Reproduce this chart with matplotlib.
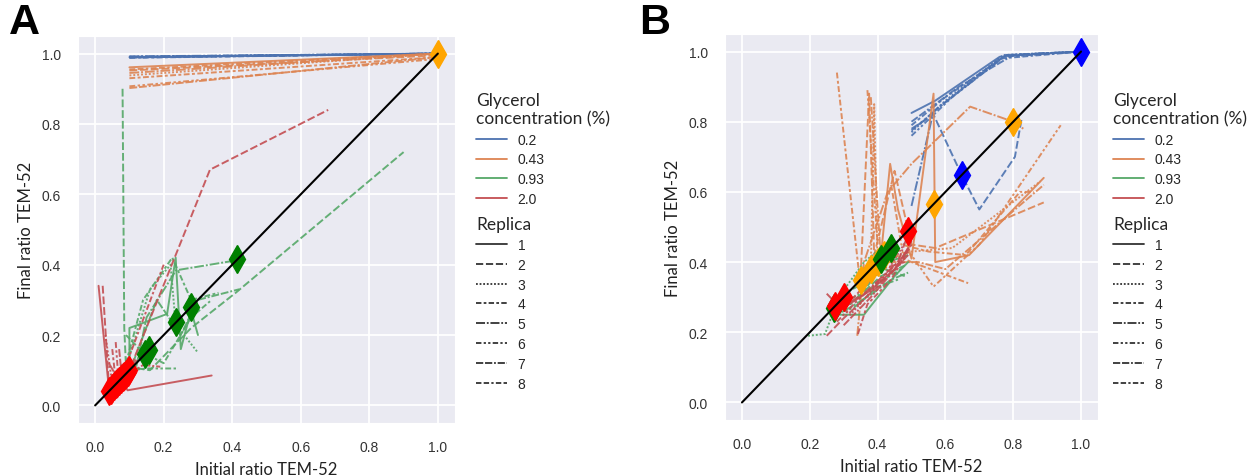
import matplotlib
matplotlib.use("Agg")
import matplotlib.pyplot as plt
from matplotlib.lines import Line2D
import seaborn as sns

sns.set_style("darkgrid")
plt.rcParams['font.family'] = ['Liberation Sans', 'DejaVu Sans']

# ---------------- data ----------------
GLYCEROL = ["0.2", "0.43", "0.93", "2.0"]
REPLICAS = ["1", "2", "3", "4", "5", "6", "7", "8"]
TICKS = [0.0, 0.2, 0.4, 0.6, 0.8, 1.0]

# Panel A trajectories: replica -> (initial ratio, final ratio)
A_G02 = {
    1: ([0.10, 1.0], [0.990, 1.0]), 2: ([0.10, 1.0], [0.989, 1.0]),
    3: ([0.10, 1.0], [0.991, 1.0]), 4: ([0.10, 1.0], [0.988, 1.0]),
    5: ([0.10, 1.0], [0.992, 1.0]), 6: ([0.10, 1.0], [0.990, 1.0]),
    7: ([0.10, 1.0], [0.989, 1.0]), 8: ([0.10, 1.0], [0.991, 1.0]),
}
A_G043 = {
    1: ([0.10, 1.0], [0.961, 1.0]), 2: ([0.10, 1.0], [0.952, 0.995]),
    3: ([0.10, 1.0], [0.938, 1.0]), 4: ([0.10, 1.0], [0.930, 0.99]),
    5: ([0.10, 1.0], [0.945, 1.0]), 6: ([0.10, 1.0], [0.907, 0.985]),
    7: ([0.10, 1.0], [0.902, 0.99]), 8: ([0.10, 1.0], [0.955, 1.0]),
}
A_G093 = {
    1: ([0.10, 0.10, 0.21, 0.235, 0.25, 0.28, 0.30], [0.10, 0.22, 0.26, 0.42, 0.16, 0.27, 0.20]),
    2: ([0.08, 0.085, 0.09, 0.16, 0.28, 0.41, 0.90], [0.90, 0.22, 0.11, 0.10, 0.22, 0.32, 0.72]),
    3: ([0.10, 0.16, 0.22, 0.235, 0.30], [0.14, 0.33, 0.40, 0.23, 0.15]),
    4: ([0.09, 0.14, 0.225, 0.28, 0.36], [0.12, 0.30, 0.42, 0.30, 0.32]),
    5: ([0.12, 0.15, 0.236, 0.416], [0.11, 0.25, 0.384, 0.413]),
    6: ([0.10, 0.15, 0.24], [0.10, 0.105, 0.105]),
    7: ([0.11, 0.18, 0.25, 0.30, 0.42], [0.12, 0.30, 0.20, 0.30, 0.33]),
    8: ([0.09, 0.14, 0.20, 0.28, 0.34], [0.20, 0.15, 0.12, 0.25, 0.30]),
}
A_G20 = {
    1: ([0.010, 0.040, 0.060, 0.095, 0.340], [0.340, 0.050, 0.080, 0.043, 0.085]),
    2: ([0.022, 0.040, 0.100, 0.335, 0.680], [0.340, 0.060, 0.100, 0.670, 0.840]),
    3: ([0.030, 0.050, 0.080], [0.200, 0.060, 0.120]),
    4: ([0.050, 0.060, 0.090], [0.160, 0.070, 0.090]),
    5: ([0.040, 0.070, 0.140, 0.190], [0.120, 0.070, 0.115, 0.110]),
    6: ([0.060, 0.070, 0.110], [0.180, 0.050, 0.120]),
    7: ([0.070, 0.080, 0.120], [0.160, 0.060, 0.130]),
    8: ([0.050, 0.100, 0.200], [0.050, 0.140, 0.400]),
}
A_DIAMOND_ORANGE = [1.0]
A_DIAMOND_GREEN = [0.145, 0.158, 0.236, 0.28, 0.415]
A_DIAMOND_RED = [0.04, 0.045, 0.05, 0.055, 0.06, 0.065, 0.07, 0.075, 0.08, 0.085, 0.09, 0.095, 0.10]

# Panel B trajectories
B_G02 = {
    1: ([0.50, 0.57, 0.76, 0.82, 1.0], [0.825, 0.86, 0.985, 0.99, 1.0]),
    2: ([0.50, 0.565, 0.648, 0.70, 0.805, 0.825], [0.78, 0.82, 0.648, 0.55, 0.70, 0.81]),
    3: ([0.50, 0.60, 0.77, 1.0], [0.77, 0.86, 0.99, 1.0]),
    4: ([0.50, 0.60, 0.78, 1.0], [0.79, 0.87, 0.99, 1.0]),
    5: ([0.50, 0.565, 0.70, 0.78, 1.0], [0.56, 0.83, 0.93, 0.99, 1.0]),
    6: ([0.50, 0.62, 0.77, 1.0], [0.76, 0.87, 0.985, 1.0]),
    7: ([0.50, 0.64, 0.80, 1.0], [0.80, 0.90, 0.99, 1.0]),
    8: ([0.50, 0.58, 0.76, 1.0], [0.775, 0.84, 0.98, 1.0]),
}
B_G043 = {
    1: ([0.35, 0.41, 0.437, 0.46, 0.50, 0.565, 0.57, 0.67, 0.89], [0.35, 0.42, 0.68, 0.55, 0.41, 0.88, 0.40, 0.42, 0.64]),
    2: ([0.35, 0.375, 0.39, 0.45, 0.50, 0.57, 0.89], [0.36, 0.88, 0.42, 0.66, 0.45, 0.44, 0.57]),
    3: ([0.38, 0.39, 0.40, 0.50, 0.62, 0.88], [0.38, 0.85, 0.40, 0.43, 0.44, 0.63]),
    4: ([0.28, 0.345, 0.43, 0.50, 0.667], [0.94, 0.37, 0.43, 0.40, 0.34]),
    5: ([0.34, 0.36, 0.43, 0.50, 0.673, 0.80, 0.83], [0.19, 0.40, 0.60, 0.68, 0.843, 0.80, 0.78]),
    6: ([0.37, 0.40, 0.50, 0.565, 0.70, 0.94], [0.89, 0.45, 0.42, 0.33, 0.45, 0.79]),
    7: ([0.38, 0.41, 0.52, 0.60, 0.89], [0.87, 0.40, 0.40, 0.38, 0.62]),
    8: ([0.44, 0.47, 0.55, 0.66, 0.82, 0.86], [0.62, 0.45, 0.43, 0.42, 0.60, 0.60]),
}
B_G093 = {
    1: ([0.27, 0.29, 0.36, 0.38, 0.45, 0.49], [0.27, 0.25, 0.25, 0.275, 0.36, 0.40]),
    2: ([0.28, 0.33, 0.41, 0.48], [0.27, 0.29, 0.36, 0.39]),
    3: ([0.195, 0.245, 0.27, 0.30, 0.36, 0.41, 0.45], [0.19, 0.195, 0.26, 0.32, 0.40, 0.44, 0.45]),
    4: ([0.27, 0.32, 0.40, 0.47], [0.29, 0.28, 0.34, 0.38]),
    5: ([0.30, 0.37, 0.44, 0.49], [0.26, 0.30, 0.35, 0.37]),
    6: ([0.28, 0.34, 0.42, 0.48], [0.30, 0.33, 0.38, 0.36]),
    7: ([0.29, 0.35, 0.43, 0.49], [0.28, 0.31, 0.40, 0.42]),
    8: ([0.27, 0.33, 0.40, 0.46], [0.25, 0.27, 0.33, 0.35]),
}
B_G20 = {
    1: ([0.27, 0.30, 0.38, 0.45, 0.49], [0.30, 0.27, 0.32, 0.38, 0.44]),
    2: ([0.25, 0.30, 0.40, 0.49], [0.19, 0.24, 0.33, 0.42]),
    3: ([0.26, 0.32, 0.42, 0.49], [0.29, 0.25, 0.36, 0.47]),
    4: ([0.342, 0.37, 0.44, 0.50], [0.195, 0.28, 0.35, 0.45]),
    5: ([0.25, 0.29, 0.36, 0.46, 0.49], [0.31, 0.27, 0.31, 0.40, 0.48]),
    6: ([0.28, 0.34, 0.43, 0.49], [0.23, 0.29, 0.37, 0.43]),
    7: ([0.30, 0.38, 0.47, 0.50], [0.22, 0.30, 0.40, 0.46]),
    8: ([0.27, 0.33, 0.41, 0.48], [0.26, 0.30, 0.38, 0.40]),
}
B_DIAMOND_BLUE = [0.648, 1.0]
B_DIAMOND_ORANGE = [0.35, 0.38, 0.40, 0.42, 0.565, 0.80]
B_DIAMOND_GREEN = [0.27, 0.41, 0.44]
B_DIAMOND_RED = [0.275, 0.30, 0.49]

# ---------------- style ----------------
PALETTE = sns.color_palette("deep", 4)
DASHES = [(None, None), (4, 1.5), (1, 1), (3, 1.25, 1.5, 1.25), (5, 1, 1, 1),
          (3, 1.25, 1.25, 1.25, 1.25, 1.25), (4, 1, 4, 1, 1, 1), (3, 1.25, 3, 1.25, 1.25, 1.25)]


def draw_line(ax, xs, ys, color, rep):
    d = DASHES[rep - 1]
    ln, = ax.plot(xs, ys, color=color, lw=1.4, alpha=0.9, zorder=2)
    if d[0] is not None:
        ln.set_dashes(d)


def make_panel(ax, groups, diamonds):
    for gi, g in enumerate(groups):
        for rep, (xs, ys) in g.items():
            draw_line(ax, xs, ys, PALETTE[gi], rep)
    for col, vals in diamonds:
        ax.plot(vals, vals, ls='none', marker='d', ms=14, color=col, mec=col, zorder=3)
    ax.plot([0, 1], [0, 1], color='black', lw=1.5, zorder=4)
    ax.set_xlim(-0.05, 1.05)
    ax.set_ylim(-0.05, 1.05)
    ax.set_xticks(TICKS)
    ax.set_yticks(TICKS)
    ax.set_xticklabels([f"{t:.1f}" for t in TICKS])
    ax.set_yticklabels([f"{t:.1f}" for t in TICKS])
    ax.tick_params(axis='x', pad=9, labelsize=10, colors='#333333')
    ax.tick_params(axis='y', pad=9, labelsize=10, colors='#333333')
    ax.set_xlabel("Initial ratio TEM-52", family='Lato', fontsize=12, labelpad=5, color='#222222')
    ax.set_ylabel("Final ratio TEM-52", family='Lato', fontsize=12, labelpad=5, color='#222222')
    ax.grid(color='white', lw=1.3)


fig = plt.figure(figsize=(12.55, 4.77), dpi=100)
W, H = 1255, 477
axA = fig.add_axes([78 / W, 1 - 424 / H, 377 / W, 387 / H])
axB = fig.add_axes([725 / W, 1 - 421 / H, 373 / W, 386 / H])

make_panel(axA, [A_G02, A_G043, A_G093, A_G20],
           [('orange', A_DIAMOND_ORANGE), ('green', A_DIAMOND_GREEN), ('red', A_DIAMOND_RED)])
make_panel(axB, [B_G02, B_G043, B_G093, B_G20],
           [('blue', B_DIAMOND_BLUE), ('orange', B_DIAMOND_ORANGE), ('green', B_DIAMOND_GREEN), ('red', B_DIAMOND_RED)])

fig.text(9 / W, 1 - 3 / H, "A", fontsize=31, fontweight='bold', va='top', ha='left', color='black')
fig.text(639 / W, 1 - 3 / H, "B", fontsize=31, fontweight='bold', va='top', ha='left', color='black')


def add_legends(x_px):
    hue_handles = [Line2D([], [], color=PALETTE[i], lw=1.3) for i in range(4)]
    style_handles = []
    for i in range(8):
        h = Line2D([], [], color='#333333', lw=1.3)
        if DASHES[i][0] is not None:
            h.set_dashes(DASHES[i])
        style_handles.append(h)
    common = dict(loc='upper left', frameon=False, borderpad=0, fontsize=10,
                  handlelength=2.2, handletextpad=0.8, labelspacing=0.42,
                  alignment='left', borderaxespad=0)
    l1 = fig.legend(hue_handles, GLYCEROL, title="Glycerol\nconcentration (%)",
                    bbox_to_anchor=(x_px / W, 1 - 93 / H), **common)
    l1.get_title().set_fontfamily('Lato')
    l1.get_title().set_fontsize(12.5)
    l2 = fig.legend(style_handles, REPLICAS, title="Replica",
                    bbox_to_anchor=(x_px / W, 1 - 217 / H), **common)
    l2.get_title().set_fontfamily('Lato')
    l2.get_title().set_fontsize(12.5)


add_legends(476)
add_legends(1113)

fig.savefig("out.png", dpi=100)
